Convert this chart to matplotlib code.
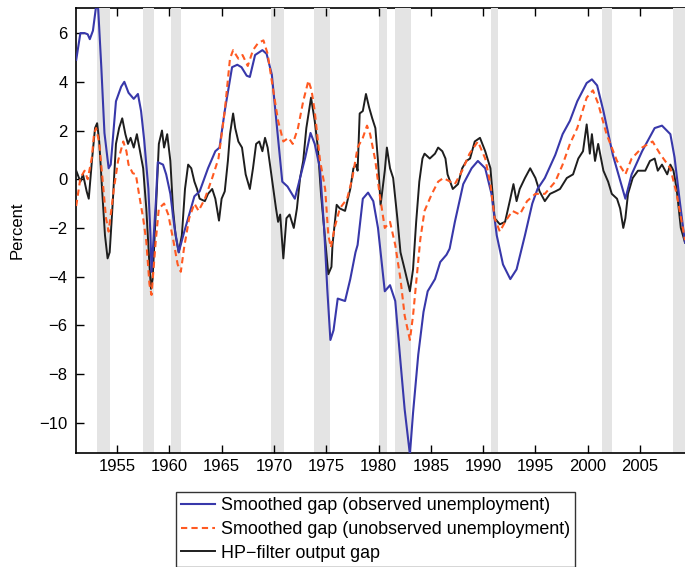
import matplotlib
matplotlib.use("Agg")
import matplotlib.pyplot as plt

# ---------------- data ----------------
blue_years = [1951.1, 1951.5, 1951.9, 1952.2, 1952.4, 1952.7, 1953.0, 1953.2, 1953.5, 1953.8,
              1954.2, 1954.4, 1954.9, 1955.4, 1955.7, 1956.1, 1956.6, 1957.0, 1957.3, 1957.6,
              1958.0, 1958.2, 1958.3, 1958.7, 1958.9, 1959.4, 1959.7, 1960.1, 1960.5, 1960.9,
              1961.4, 1961.9, 1962.4, 1962.9, 1963.7, 1964.4, 1964.8, 1965.3, 1966.0, 1966.5,
              1966.9, 1967.4, 1967.7, 1968.2, 1968.9, 1969.3, 1969.8, 1970.3, 1970.8, 1971.3,
              1972.0, 1972.5, 1973.0, 1973.5, 1973.9, 1974.4, 1974.8, 1975.1, 1975.4, 1975.7,
              1976.1, 1976.8, 1977.3, 1977.8, 1978.0, 1978.5, 1979.0, 1979.5, 1979.95, 1980.6,
              1981.1, 1981.6, 1982.1, 1982.5, 1983.0, 1983.3, 1983.8, 1984.3, 1984.7, 1985.4,
              1985.9, 1986.5, 1986.8, 1987.3, 1988.1, 1988.9, 1989.5, 1990.2, 1990.8, 1991.3,
              1991.9, 1992.6, 1993.2, 1994.0, 1994.7, 1995.2, 1995.9, 1996.9, 1997.6, 1998.3,
              1999.0, 1999.9, 2000.4, 2000.9, 2001.5, 2002.4, 2003.6, 2004.2, 2005.2, 2006.4,
              2007.1, 2007.9, 2008.3, 2008.8, 2009.3]
blue_vals = [4.9, 6.0, 6.0, 5.95, 5.75, 6.1, 7.1, 7.0, 4.6, 1.9,
             0.45, 0.6, 3.2, 3.8, 4.0, 3.55, 3.3, 3.5, 2.8, 1.6,
             -0.4, -2.3, -3.8, -1.0, 0.7, 0.6, 0.2, -0.6, -2.0, -3.0,
             -2.2, -1.45, -0.7, -0.5, 0.45, 1.15, 1.3, 2.8, 4.6, 4.7,
             4.6, 4.25, 4.2, 5.1, 5.3, 5.15, 4.3, 2.1, -0.1, -0.3,
             -0.8, 0.05, 0.9, 1.9, 1.45, 0.45, -2.0, -4.5, -6.6, -6.2,
             -4.9, -5.0, -4.1, -3.0, -2.7, -0.8, -0.55, -0.9, -2.0, -4.6,
             -4.35, -5.0, -7.5, -9.45, -11.3, -9.6, -7.2, -5.45, -4.6, -4.1,
             -3.4, -3.1, -2.85, -1.75, -0.2, 0.45, 0.75, 0.45, -0.6, -2.3,
             -3.5, -4.1, -3.7, -2.3, -1.0, -0.4, 0.05, 1.0, 1.85, 2.4,
             3.2, 3.95, 4.1, 3.85, 2.8, 1.0, -0.8, 0.2, 1.15, 2.1,
             2.2, 1.85, 0.9, -0.9, -2.6]

orange_years = [1951.1, 1951.5, 1951.9, 1952.2, 1952.6, 1952.8, 1953.0, 1953.3, 1953.7, 1953.95,
                1954.2, 1954.7, 1955.1, 1955.6, 1955.9, 1956.1, 1956.5, 1956.8, 1957.1, 1957.5,
                1957.8, 1958.1, 1958.3, 1958.7, 1959.0, 1959.5, 1959.9, 1960.4, 1960.8, 1961.1,
                1961.4, 1961.9, 1962.4, 1962.8, 1963.4, 1964.1, 1964.7, 1965.3, 1965.8, 1966.1,
                1966.6, 1967.0, 1967.5, 1968.0, 1968.5, 1969.0, 1969.4, 1969.9, 1970.4, 1970.9,
                1971.4, 1971.8, 1972.3, 1972.8, 1973.3, 1973.6, 1973.9, 1974.4, 1974.9, 1975.2,
                1975.45, 1975.8, 1976.3, 1977.0, 1977.5, 1978.0, 1978.5, 1978.9, 1979.2, 1979.7,
                1980.1, 1980.6, 1981.1, 1981.6, 1982.1, 1982.5, 1983.0, 1983.3, 1983.7, 1984.0,
                1984.4, 1985.1, 1985.7, 1986.2, 1987.3, 1988.0, 1988.7, 1989.5, 1990.2, 1990.7,
                1991.1, 1991.6, 1992.1, 1992.8, 1993.5, 1994.2, 1995.0, 1995.9, 1996.9, 1997.6,
                1998.3, 1999.0, 1999.9, 2000.5, 2001.0, 2001.8, 2002.8, 2003.6, 2004.2, 2005.2,
                2006.2, 2006.9, 2007.9, 2008.5, 2009.3]
orange_vals = [-1.1, 0.05, 0.35, 0.0, 0.9, 1.85, 2.1, 1.5, -0.4, -1.6,
               -2.15, -0.4, 0.75, 1.55, 1.15, 0.6, 0.25, 0.2, -0.6, -1.6,
               -2.55, -4.3, -4.75, -2.55, -1.2, -1.0, -1.45, -2.55, -3.5, -3.8,
               -2.85, -1.6, -1.0, -1.3, -0.8, 0.05, 0.85, 2.8, 4.95, 5.3,
               4.95, 5.1, 4.65, 5.3, 5.6, 5.7, 5.15, 3.75, 2.4, 1.55,
               1.7, 1.45, 2.1, 3.2, 4.05, 3.65, 2.8, 0.8, -0.4, -2.3,
               -2.8, -2.0, -1.2, -0.8, 0.05, 1.3, 1.7, 2.2, 1.85, 0.75,
               -0.6, -2.0, -1.75, -2.7, -4.1, -5.6, -6.6, -5.6, -3.8, -2.45,
               -1.3, -0.6, -0.1, 0.05, -0.2, 0.35, 1.05, 1.55, 0.85, -0.2,
               -1.6, -2.15, -1.75, -1.3, -1.45, -0.9, -0.6, -0.6, -0.1, 0.6,
               1.45, 2.1, 3.35, 3.65, 3.1, 1.85, 0.75, 0.2, 0.85, 1.3,
               1.55, 1.05, 0.45, -0.6, -2.5]

black_years = [1951.1, 1951.5, 1951.75, 1952.1, 1952.3, 1952.6, 1952.9, 1953.1, 1953.3, 1953.6,
               1953.85, 1954.1, 1954.3, 1954.6, 1954.9, 1955.2, 1955.5, 1955.8, 1956.05, 1956.3,
               1956.6, 1956.9, 1957.2, 1957.5, 1957.8, 1958.1, 1958.25, 1958.4, 1958.7, 1959.0,
               1959.3, 1959.5, 1959.8, 1960.1, 1960.35, 1960.6, 1960.9, 1961.2, 1961.5, 1961.8,
               1962.1, 1962.4, 1962.65, 1962.9, 1963.4, 1963.7, 1964.1, 1964.4, 1964.75, 1965.0,
               1965.3, 1965.6, 1965.8, 1966.1, 1966.3, 1966.6, 1966.95, 1967.3, 1967.7, 1968.0,
               1968.3, 1968.6, 1968.9, 1969.15, 1969.4, 1969.8, 1970.2, 1970.4, 1970.6, 1970.9,
               1971.2, 1971.5, 1971.9, 1972.2, 1972.5, 1972.8, 1973.1, 1973.4, 1973.55, 1973.7,
               1973.9, 1974.2, 1974.5, 1974.9, 1975.2, 1975.5, 1975.6, 1976.0, 1976.3, 1976.8,
               1977.3, 1977.6, 1977.85, 1978.0, 1978.2, 1978.5, 1978.8, 1979.1, 1979.4, 1979.7,
               1979.95, 1980.2, 1980.6, 1980.8, 1981.1, 1981.4, 1981.8, 1982.1, 1982.5, 1983.0,
               1983.3, 1983.6, 1983.9, 1984.2, 1984.4, 1984.9, 1985.4, 1985.7, 1986.1, 1986.4,
               1986.6, 1987.1, 1987.6, 1988.0, 1988.4, 1988.75, 1989.2, 1989.7, 1990.2, 1990.7,
               1990.9, 1991.1, 1991.6, 1992.1, 1992.6, 1992.9, 1993.2, 1993.5, 1994.0, 1994.5,
               1995.0, 1995.4, 1995.9, 1996.4, 1996.9, 1997.35, 1998.0, 1998.6, 1999.1, 1999.55,
               1999.9, 2000.2, 2000.4, 2000.7, 2001.0, 2001.5, 2001.95, 2002.3, 2002.8, 2003.1,
               2003.4, 2003.6, 2003.85, 2004.3, 2004.8, 2005.5, 2005.95, 2006.4, 2006.7, 2007.1,
               2007.6, 2007.9, 2008.2, 2008.5, 2008.9, 2009.3]
black_vals = [0.35, -0.1, 0.2, -0.5, -0.8, 0.75, 2.1, 2.3, 1.55, -0.6,
              -2.3, -3.25, -3.0, -0.9, 1.45, 2.1, 2.5, 1.85, 1.45, 1.7,
              1.3, 1.85, 1.15, 0.45, -1.2, -3.5, -4.5, -4.1, -1.45, 1.45,
              2.0, 1.3, 1.85, 0.75, -1.2, -2.3, -3.0, -2.3, -0.4, 0.6,
              0.45, -0.1, -0.4, -0.8, -0.9, -0.6, -0.4, -0.8, -1.7, -0.8,
              -0.5, 0.75, 1.85, 2.7, 2.1, 1.55, 1.3, 0.2, -0.4, 0.45,
              1.45, 1.55, 1.15, 1.7, 1.3, 0.05, -1.2, -1.75, -1.45, -3.25,
              -1.6, -1.45, -2.0, -1.2, 0.05, 0.75, 2.1, 2.95, 3.35, 2.95,
              2.4, 1.3, -0.6, -2.5, -3.9, -3.6, -2.7, -1.05, -1.2, -1.3,
              -0.4, 0.45, 0.6, 0.35, 2.7, 2.8, 3.5, 2.95, 2.5, 2.1,
              0.75, -1.05, 0.35, 1.3, 0.45, 0.05, -1.6, -3.0, -3.7, -4.6,
              -3.7, -1.75, -0.1, 0.85, 1.05, 0.85, 1.05, 1.3, 1.15, 0.85,
              0.2, -0.4, -0.2, 0.45, 0.75, 0.85, 1.55, 1.7, 1.15, 0.45,
              -0.6, -1.6, -1.85, -1.75, -0.8, -0.2, -0.9, -0.4, 0.05, 0.45,
              0.05, -0.5, -0.9, -0.6, -0.5, -0.4, 0.05, 0.2, 0.85, 1.15,
              2.25, 1.05, 1.85, 0.75, 1.45, 0.35, -0.1, -0.6, -0.8, -1.2,
              -2.0, -1.6, -0.6, 0.05, 0.35, 0.35, 0.75, 0.85, 0.35, 0.6,
              0.2, 0.6, 0.35, -0.4, -2.0, -2.6]

recession_start = [1953.1, 1957.5, 1960.2, 1969.7, 1973.8, 1980.05, 1981.6, 1990.75, 2001.4, 2008.15]
recession_end = [1954.3, 1958.5, 1961.1, 1971.0, 1975.4, 1980.8, 1983.1, 1991.4, 2002.3, 2010.0]

x_ticks = [1955, 1960, 1965, 1970, 1975, 1980, 1985, 1990, 1995, 2000, 2005]
y_ticks = [-10, -8, -6, -4, -2, 0, 2, 4, 6]

labels = ["Smoothed gap (observed unemployment)",
          "Smoothed gap (unobserved unemployment)",
          "HP\u2212filter output gap"]

# ---------------- figure ----------------
plt.rcParams['font.family'] = ['Liberation Sans', 'DejaVu Sans']
W, H = 685, 567
fig = plt.figure(figsize=(W / 100, H / 100), dpi=100)
ax = fig.add_axes([76 / W, 1 - 453 / H, (685 - 76) / W, (453 - 8) / H])

for s, e in zip(recession_start, recession_end):
    ax.axvspan(s, e, color='#e4e4e4', lw=0, zorder=1)

l1, = ax.plot(blue_years, blue_vals, color='#3838aa', lw=1.5, zorder=3, label=labels[0])
l2, = ax.plot(orange_years, orange_vals, color='#ff5a22', lw=1.5, ls=(0, (3, 2)), zorder=4, label=labels[1])
l3, = ax.plot(black_years, black_vals, color='#1e1e1e', lw=1.4, zorder=2.6, label=labels[2])

ax.set_xlim(1951.08, 2009.3)
ax.set_ylim(-11.24, 7.03)
ax.set_xticks(x_ticks)
ax.set_yticks(y_ticks)
ax.tick_params(axis='both', direction='in', labelsize=12, width=1.0, length=6, top=True)
ax.tick_params(axis='y', pad=6)
ax.tick_params(axis='x', pad=4)
for sp in ['left', 'bottom', 'top']:
    ax.spines[sp].set_linewidth(1.2)
ax.spines['top'].set_zorder(0.5)
ax.spines['right'].set_visible(False)

ax.set_ylabel('Percent', fontsize=12)
ax.yaxis.set_label_coords(-0.085, 0.5)

leg = fig.legend(handles=[l1, l2, l3], loc='lower left',
                 bbox_to_anchor=(176 / W, 0.0), borderaxespad=0.0,
                 fontsize=12.9, frameon=True, fancybox=False, edgecolor='black',
                 handlelength=1.85, handletextpad=0.35, labelspacing=0.38,
                 borderpad=0.3)
leg.get_frame().set_linewidth(1.0)

fig.savefig('out.png', dpi=100)
